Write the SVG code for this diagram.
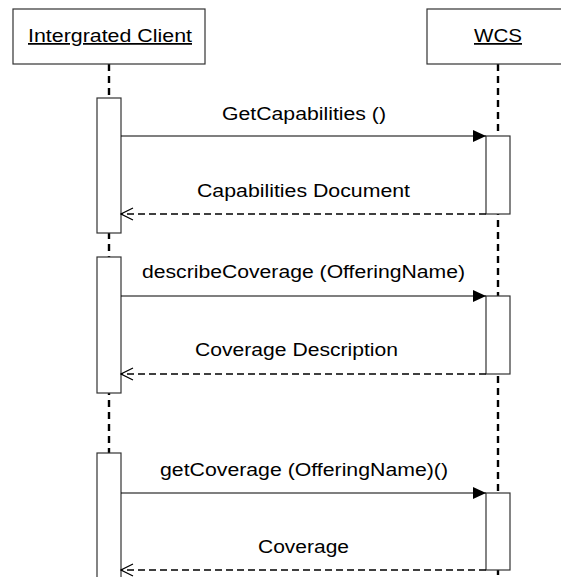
<svg xmlns="http://www.w3.org/2000/svg" width="561" height="577" viewBox="0 0 561 577">
  <style>
    .head { fill: #fff; stroke: #333; stroke-width: 1.2; }
    .life { stroke: #000; stroke-width: 2.4; stroke-dasharray: 7 5; fill: none; }
    .act { fill: #fff; stroke: #333; stroke-width: 1.2; }
    .call { stroke: #000; stroke-width: 1.2; fill: none; }
    .ret { stroke: #000; stroke-width: 1.6; stroke-dasharray: 7 4; fill: none; }
    text { font-family: "Liberation Sans", Arial, sans-serif; font-size: 17.5px; fill: #000; }
    .u { text-decoration: underline; }
  </style>
  <defs>
    <marker id="solidHead" viewBox="0 0 13 12" refX="13" refY="6" markerWidth="13" markerHeight="12" markerUnits="userSpaceOnUse" orient="auto">
      <path d="M0,0 L13,6 L0,12 Z" fill="#000"/>
    </marker>
    <marker id="openHead" viewBox="0 0 14 14" refX="13" refY="7" markerWidth="14" markerHeight="14" markerUnits="userSpaceOnUse" orient="auto">
      <path d="M1,1 L13,7 L1,13" fill="none" stroke="#000" stroke-width="1.2"/>
    </marker>
  </defs>

  <!-- lifelines -->
  <g id="lifelines">
    <line class="life" x1="109" y1="64" x2="109" y2="577"/>
    <line class="life" x1="498" y1="64" x2="498" y2="577"/>
  </g>

  <g id="client">
    <rect class="head" x="13" y="9" width="192" height="55"/>
    <text class="u" x="28" y="42" textLength="164" lengthAdjust="spacingAndGlyphs">Intergrated Client</text>
    <rect class="act" x="97" y="98" width="24" height="135"/>
    <rect class="act" x="97" y="257" width="24" height="136"/>
    <rect class="act" x="97" y="453" width="24" height="130"/>
  </g>

  <g id="wcs">
    <rect class="head" x="427" y="9" width="143" height="55"/>
    <text class="u" x="474" y="42" textLength="48" lengthAdjust="spacingAndGlyphs">WCS</text>
    <rect class="act" x="486" y="136" width="24" height="78"/>
    <rect class="act" x="486" y="296" width="24" height="78"/>
    <rect class="act" x="486" y="493" width="24" height="77"/>
  </g>

  <!-- messages -->
  <g id="connectors">
    <line class="call" x1="121" y1="136" x2="486" y2="136" marker-end="url(#solidHead)"/>
    <text x="222" y="120" textLength="164" lengthAdjust="spacingAndGlyphs">GetCapabilities ()</text>
    <line class="ret" x1="486" y1="214" x2="121" y2="214" marker-end="url(#openHead)"/>
    <text x="197" y="197" textLength="213" lengthAdjust="spacingAndGlyphs">Capabilities Document</text>

    <line class="call" x1="121" y1="296" x2="486" y2="296" marker-end="url(#solidHead)"/>
    <text x="142" y="278" textLength="323" lengthAdjust="spacingAndGlyphs">describeCoverage (OfferingName)</text>
    <line class="ret" x1="486" y1="374" x2="121" y2="374" marker-end="url(#openHead)"/>
    <text x="195" y="356" textLength="203" lengthAdjust="spacingAndGlyphs">Coverage Description</text>

    <line class="call" x1="121" y1="493" x2="486" y2="493" marker-end="url(#solidHead)"/>
    <text x="160" y="476" textLength="288" lengthAdjust="spacingAndGlyphs">getCoverage (OfferingName)()</text>
    <line class="ret" x1="486" y1="570" x2="121" y2="570" marker-end="url(#openHead)"/>
    <text x="258" y="553" textLength="91" lengthAdjust="spacingAndGlyphs">Coverage</text>
  </g>
</svg>
